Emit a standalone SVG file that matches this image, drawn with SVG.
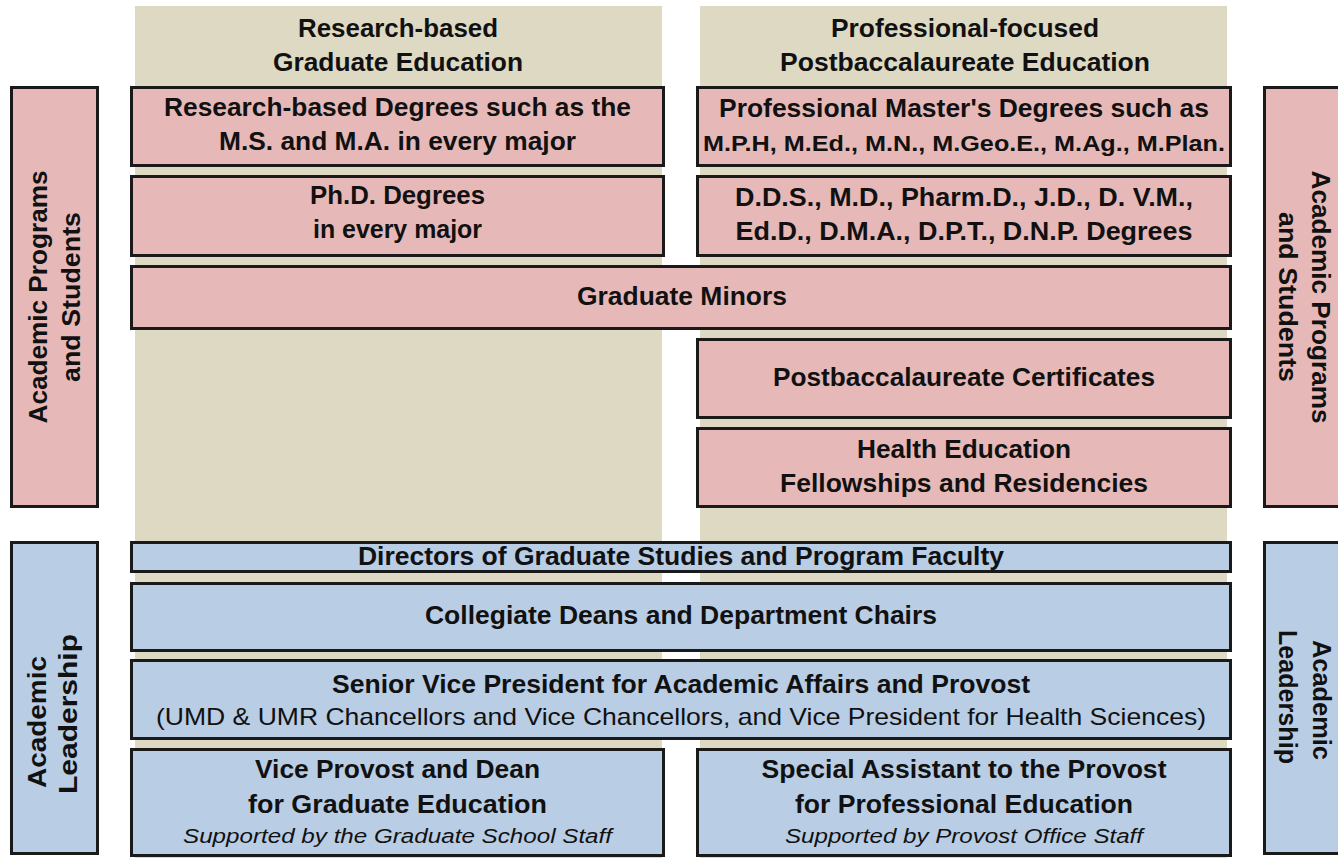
<svg xmlns="http://www.w3.org/2000/svg" width="1338" height="858" viewBox="0 0 1338 858">
<style>
.tan{fill:#DDD9C3}
.pk{fill:#E6B9B8;stroke:#1a1a1a;stroke-width:3}
.bl{fill:#B9CDE5;stroke:#1a1a1a;stroke-width:3}
text{font-family:"Liberation Sans",Arial,sans-serif;fill:#111;text-anchor:middle}
.b{font-weight:bold;font-size:25px}
.s{font-weight:bold;font-size:22px}
.r{font-size:24px}
.i{font-style:italic;font-size:20.5px}
</style>
<rect width="1338" height="858" fill="#fff"/>
<g id="columns">
<rect class="tan" x="135" y="6" width="527" height="852"/>
<rect class="tan" x="700" y="6" width="527" height="852"/>
<text class="b" x="398" y="37" textLength="200" lengthAdjust="spacingAndGlyphs">Research-based</text>
<text class="b" x="398" y="71" textLength="250" lengthAdjust="spacingAndGlyphs">Graduate Education</text>
<text class="b" x="965" y="37" textLength="268" lengthAdjust="spacingAndGlyphs">Professional-focused</text>
<text class="b" x="965" y="71" textLength="370" lengthAdjust="spacingAndGlyphs">Postbaccalaureate Education</text>
</g>
<g id="side-programs-left">
<rect class="pk" x="11.5" y="87.5" width="86" height="419"/>
<text class="b" transform="translate(47,297) rotate(-90)" textLength="253" lengthAdjust="spacingAndGlyphs">Academic Programs</text>
<text class="b" transform="translate(80,297) rotate(-90)" textLength="170" lengthAdjust="spacingAndGlyphs">and Students</text>
</g>
<g id="side-programs-right">
<rect class="pk" x="1264.5" y="87.5" width="86" height="419"/>
<text class="b" transform="translate(1312,297) rotate(90)" textLength="253" lengthAdjust="spacingAndGlyphs">Academic Programs</text>
<text class="b" transform="translate(1279,297) rotate(90)" textLength="170" lengthAdjust="spacingAndGlyphs">and Students</text>
</g>
<g id="side-leadership-left">
<rect class="bl" x="11.5" y="542.5" width="86" height="311"/>
<text class="b" transform="translate(46,722) rotate(-90)" textLength="132" lengthAdjust="spacingAndGlyphs">Academic</text>
<text class="b" transform="translate(77,714) rotate(-90)" textLength="160" lengthAdjust="spacingAndGlyphs">Leadership</text>
</g>
<g id="side-leadership-right">
<rect class="bl" x="1264.5" y="542.5" width="86" height="311"/>
<text class="b" transform="translate(1313,700) rotate(90)" textLength="120" lengthAdjust="spacingAndGlyphs">Academic</text>
<text class="b" transform="translate(1279,697) rotate(90)" textLength="134" lengthAdjust="spacingAndGlyphs">Leadership</text>
</g>
<g id="research-degrees">
<rect class="pk" x="131.5" y="87.5" width="532" height="78"/>
<text class="b" x="397.5" y="116" textLength="467" lengthAdjust="spacingAndGlyphs">Research-based Degrees such as the</text>
<text class="b" x="397.5" y="150" textLength="357" lengthAdjust="spacingAndGlyphs">M.S. and M.A. in every major</text>
</g>
<g id="professional-masters">
<rect class="pk" x="697.5" y="87.5" width="533" height="78"/>
<text class="b" x="964" y="117" textLength="490" lengthAdjust="spacingAndGlyphs">Professional Master's Degrees such as</text>
<text class="s" x="964" y="151" textLength="522" lengthAdjust="spacingAndGlyphs">M.P.H, M.Ed., M.N., M.Geo.E., M.Ag., M.Plan.</text>
</g>
<g id="phd">
<rect class="pk" x="131.5" y="176.5" width="532" height="79"/>
<text class="b" x="397.5" y="204" textLength="175" lengthAdjust="spacingAndGlyphs">Ph.D. Degrees</text>
<text class="b" x="397.5" y="238" textLength="169" lengthAdjust="spacingAndGlyphs">in every major</text>
</g>
<g id="professional-doctorates">
<rect class="pk" x="697.5" y="176.5" width="533" height="79"/>
<text class="b" x="964" y="206" textLength="458" lengthAdjust="spacingAndGlyphs">D.D.S., M.D., Pharm.D., J.D., D. V.M.,</text>
<text class="b" x="964" y="240" textLength="457" lengthAdjust="spacingAndGlyphs">Ed.D., D.M.A., D.P.T., D.N.P. Degrees</text>
</g>
<g id="minors">
<rect class="pk" x="131.5" y="266.5" width="1099" height="62"/>
<text class="b" x="682" y="305" textLength="210" lengthAdjust="spacingAndGlyphs">Graduate Minors</text>
</g>
<g id="certificates">
<rect class="pk" x="697.5" y="339.5" width="533" height="78"/>
<text class="b" x="964" y="386" textLength="382" lengthAdjust="spacingAndGlyphs">Postbaccalaureate Certificates</text>
</g>
<g id="health">
<rect class="pk" x="697.5" y="428.5" width="533" height="78"/>
<text class="b" x="964" y="458" textLength="214" lengthAdjust="spacingAndGlyphs">Health Education</text>
<text class="b" x="964" y="492" textLength="368" lengthAdjust="spacingAndGlyphs">Fellowships and Residencies</text>
</g>
<g id="directors">
<rect class="bl" x="131.5" y="542.5" width="1099" height="29"/>
<text class="b" x="681" y="565" textLength="646" lengthAdjust="spacingAndGlyphs">Directors of Graduate Studies and Program Faculty</text>
</g>
<g id="deans">
<rect class="bl" x="131.5" y="583.5" width="1099" height="67"/>
<text class="b" x="681" y="624" textLength="512" lengthAdjust="spacingAndGlyphs">Collegiate Deans and Department Chairs</text>
</g>
<g id="provost">
<rect class="bl" x="131.5" y="660.5" width="1099" height="78"/>
<text class="b" x="681" y="693" textLength="698" lengthAdjust="spacingAndGlyphs">Senior Vice President for Academic Affairs and Provost</text>
<text class="r" x="681" y="725" textLength="1050" lengthAdjust="spacingAndGlyphs">(UMD &amp; UMR Chancellors and Vice Chancellors, and Vice President for Health Sciences)</text>
</g>
<g id="vice-provost">
<rect class="bl" x="131.5" y="749.5" width="532" height="106"/>
<text class="b" x="397.5" y="778" textLength="285" lengthAdjust="spacingAndGlyphs">Vice Provost and Dean</text>
<text class="b" x="397.5" y="813" textLength="299" lengthAdjust="spacingAndGlyphs">for Graduate Education</text>
<text class="i" x="397.5" y="843" textLength="429" lengthAdjust="spacingAndGlyphs">Supported by the Graduate School Staff</text>
</g>
<g id="special-assistant">
<rect class="bl" x="697.5" y="749.5" width="533" height="106"/>
<text class="b" x="964" y="778" textLength="405" lengthAdjust="spacingAndGlyphs">Special Assistant to the Provost</text>
<text class="b" x="964" y="813" textLength="338" lengthAdjust="spacingAndGlyphs">for Professional Education</text>
<text class="i" x="964" y="843" textLength="358" lengthAdjust="spacingAndGlyphs">Supported by Provost Office Staff</text>
</g>
<g id="connectors"></g>
</svg>
